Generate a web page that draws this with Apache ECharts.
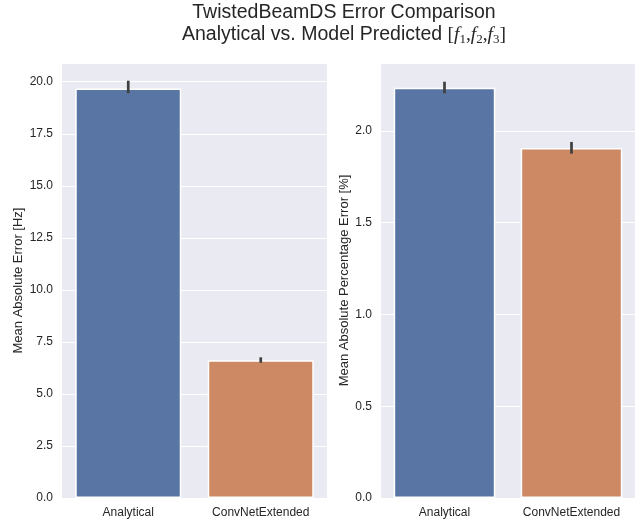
<!DOCTYPE html>
<html><head><meta charset="utf-8">
<script src="https://cdn.jsdelivr.net/npm/echarts@6/dist/echarts.min.js"></script>
<style>html,body{margin:0;padding:0;background:#fff}#c{width:635px;height:522px}</style>
</head><body><div id="c"></div>
<script>
const categories = ['Analytical', 'ConvNetExtended'];
const maeValues = [19.68, 6.62];
const maeErrLow = [19.45, 6.50];
const maeErrHigh = [20.05, 6.76];
const mapeValues = [2.235, 1.907];
const mapeErrLow = [2.205, 1.876];
const mapeErrHigh = [2.268, 1.940];
const colors = ['#5875a4', '#cc8963'];

const chart = echarts.init(document.getElementById('c'), null, {renderer: 'canvas'});
const txt = '#262626';
const ff = 'Liberation Sans';
function yAxis(gi, name, max, interval, gap) {
  return {
    gridIndex: gi, type: 'value', min: 0, max: max, interval: interval,
    name: name, nameLocation: 'middle', nameGap: gap,
    nameTextStyle: {color: txt, fontSize: 13, fontFamily: ff},
    axisLine: {show: false}, axisTick: {show: false},
    axisLabel: {color: txt, fontSize: 12, fontFamily: ff, margin: 9, showMaxLabel: false,
      formatter: v => v.toFixed(1)},
    splitLine: {lineStyle: {color: '#ffffff', width: 1.2}}
  };
}
function xAxis(gi) {
  return {
    gridIndex: gi, type: 'category', data: categories,
    axisLine: {show: false}, axisTick: {show: false},
    axisLabel: {color: txt, fontSize: 12, fontFamily: ff, margin: 9, interval: 0, hideOverlap: false},
    splitLine: {show: false}
  };
}
function bars(gi, vals) {
  return {
    type: 'bar', xAxisIndex: gi, yAxisIndex: gi, barWidth: '80%',
    data: vals.map((v, i) => ({value: v, itemStyle: {color: colors[i]}})),
    itemStyle: {borderColor: '#ffffff', borderWidth: 1.5}, silent: true
  };
}
function errs(gi, lo, hi) {
  return {
    type: 'custom', xAxisIndex: gi, yAxisIndex: gi, silent: true, z: 10,
    data: lo.map((l, i) => [i, l, hi[i]]),
    renderItem: (params, api) => {
      const a = api.coord([api.value(0), api.value(1)]);
      const b = api.coord([api.value(0), api.value(2)]);
      return {type: 'line', shape: {x1: a[0], y1: a[1], x2: b[0], y2: b[1]},
        style: {stroke: '#3f3f3f', lineWidth: 2.7}};
    }
  };
}
chart.setOption({
  animation: false,
  backgroundColor: '#ffffff',
  title: {
    text: 'TwistedBeamDS Error Comparison\nAnalytical vs. Model Predicted {m|[}{i|f}{s|1}{m|,}{i|f}{s|2}{m|,}{i|f}{s|3}{m|]}',
    left: 339, top: -4, textAlign: 'center',
    textStyle: {color: txt, fontSize: 19.5, fontWeight: 'normal', fontFamily: ff, lineHeight: 22.5,
      rich: {
        m: {fontSize: 19.5, fontFamily: 'Liberation Serif', color: txt, lineHeight: 22.5},
        i: {fontSize: 19.5, fontFamily: 'Liberation Serif', fontStyle: 'italic', color: txt, lineHeight: 22.5},
        s: {fontSize: 13, fontFamily: 'Liberation Serif', color: txt, lineHeight: 22.5, verticalAlign: 'bottom', padding: [6, 0, 0, 0]}
      }}
  },
  grid: [
    {left: 62, top: 63, width: 265, height: 435, show: true, backgroundColor: '#eaeaf2', borderWidth: 0},
    {left: 381, top: 63, width: 265, height: 435, show: true, backgroundColor: '#eaeaf2', borderWidth: 0}
  ],
  xAxis: [xAxis(0), xAxis(1)],
  yAxis: [yAxis(0, 'Mean Absolute Error [Hz]', 20.9, 2.5, 37), yAxis(1, 'Mean Absolute Percentage Error [%]', 2.37, 0.5, 30)],
  series: [bars(0, maeValues), errs(0, maeErrLow, maeErrHigh), bars(1, mapeValues), errs(1, mapeErrLow, mapeErrHigh)]
});
</script></body></html>
